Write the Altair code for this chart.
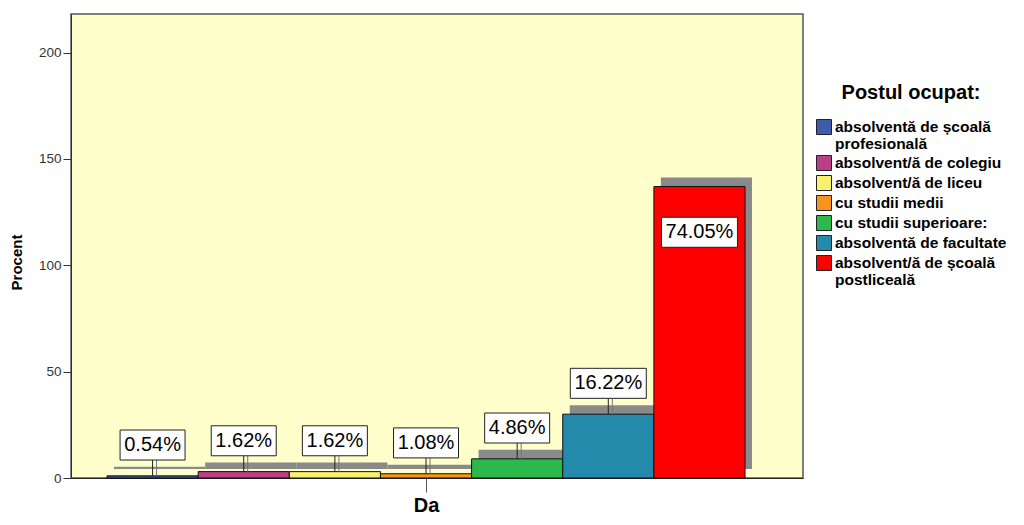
import altair as alt
import pandas as pd

categories = [
    "absolventă de școală profesională",
    "absolvent/ă de colegiu",
    "absolvent/ă de liceu",
    "cu studii medii",
    "cu studii superioare:",
    "absolventă de facultate",
    "absolvent/ă de școală postliceală",
]
counts = [1, 3, 3, 2, 9, 30, 137]
percents = [0.54, 1.62, 1.62, 1.08, 4.86, 16.22, 74.05]
colors = ["#3F5BA9", "#BA3F86", "#F6F16E", "#F7941E", "#2DB84B", "#238AAC", "#FF0000"]
x_label = "Da"

df = pd.DataFrame({
    "cat": categories,
    "count": counts,
    "pct": percents,
    "idx": list(range(len(categories))),
})
df["idx1"] = df["idx"] + 1
df["mid"] = df["idx"] + 0.5
df["zero"] = 0
df["txt"] = [f"{p:.2f}%" for p in percents]

font = "Liberation Sans"

xscale = alt.Scale(domain=[-0.395, 7.636], nice=False, zero=False)
yscale = alt.Scale(domain=[0, 218.1], nice=False)

base = alt.Chart(df).transform_calculate(
    lab="datum.count >= 100 ? datum.count - 21.5 : datum.count + 14.5"
)

shadow = base.mark_rect(color="#8A8A8A", xOffset=7, x2Offset=7, yOffset=-9, y2Offset=-9).encode(
    x=alt.X("idx:Q", scale=xscale,
            axis=alt.Axis(values=[3.5], labelExpr=f"'{x_label}'", title=None, grid=False,
                          tickSize=14, tickColor="#555", domainColor="#222",
                          labelFontSize=20, labelFontWeight="bold", labelColor="#000",
                          labelPadding=3)),
    x2="idx1:Q",
    y=alt.Y("count:Q", scale=yscale,
            axis=alt.Axis(values=[0, 50, 100, 150, 200], title="Procent", grid=False,
                          tickSize=8, tickColor="#333", domainColor="#333",
                          labelFontSize=13.5, labelColor="#333", labelPadding=2,
                          titleFontSize=15, titleFontWeight="bold", titleColor="#000",
                          titlePadding=14, titleY=248)),
    y2="zero:Q",
)

bars = base.mark_rect(stroke="#111", strokeWidth=1).encode(
    x="idx:Q",
    x2="idx1:Q",
    y="count:Q",
    y2="zero:Q",
    color=alt.Color("cat:N", scale=alt.Scale(domain=categories, range=colors),
                    legend=alt.Legend(
                        title="Postul ocupat:", orient="none", legendX=745, legendY=69,
                        titleFontSize=20, titleFontWeight="bold", titleColor="#000",
                        titleAnchor="middle", titlePadding=16,
                        labelFontSize=15.5, labelFontWeight="bold", labelColor="#000",
                        labelLimit=400, labelOffset=3,
                        symbolType="square", symbolSize=225, symbolStrokeColor="#222",
                        symbolStrokeWidth=1, symbolOpacity=1, rowPadding=0,
                        labelExpr="length(datum.label) > 25 ? [substring(datum.label, 0, lastindexof(datum.label, ' ')), substring(datum.label, lastindexof(datum.label, ' ') + 1)] : datum.label",
                    )),
)

small = base.transform_filter("datum.count < 100")

leader_shadow = small.mark_rule(color="#777", strokeWidth=1, xOffset=4).encode(
    x="mid:Q", y="count:Q", y2="lab:Q")
leader = small.mark_rule(color="#222", strokeWidth=1).encode(
    x="mid:Q", y="count:Q", y2="lab:Q")

box_narrow = base.transform_filter("length(datum.txt) <= 5").mark_point(
    shape="M-1,-0.4615L1,-0.4615L1,0.4615L-1,0.4615Z", size=4225,
    filled=True, fill="white", stroke="#222", strokeWidth=1, opacity=1
).encode(x="mid:Q", y="lab:Q")

box_wide = base.transform_filter("length(datum.txt) > 5").mark_point(
    shape="M-1,-0.395L1,-0.395L1,0.395L-1,0.395Z", size=5776,
    filled=True, fill="white", stroke="#222", strokeWidth=1, opacity=1
).encode(x="mid:Q", y="lab:Q")

labels = base.mark_text(fontSize=20, color="#000", font=font, baseline="middle").encode(
    x="mid:Q", y="lab:Q", text="txt:N")

chart = alt.layer(shadow, bars, leader_shadow, leader, box_narrow, box_wide, labels).properties(
    width=732, height=464,
    autosize=alt.AutoSizeParams(type="none"),
    padding={"left": 63, "top": 6, "right": 213, "bottom": 39},
).configure(
    font=font,
    view=alt.ViewConfig(fill="#FFFFCC", stroke="#555", strokeWidth=1.5),
    style={"guide-label": {"lineHeight": 17}},
)

chart.save("out.html", embed_options={"renderer": "svg", "actions": False})
